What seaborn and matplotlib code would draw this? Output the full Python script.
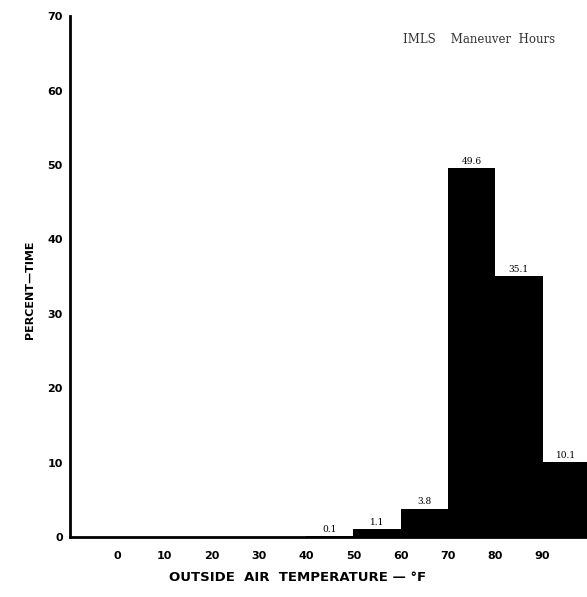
import numpy as np
import pandas as pd
import matplotlib
matplotlib.use('Agg')
import matplotlib.pyplot as plt
import seaborn as sns

# Dati
bin_edges = [40, 50, 60, 70, 80, 90, 100]
percent_time = [0.1, 1.1, 3.8, 49.6, 35.1, 10.1]
bar_labels = ['0.1', '1.1', '3.8', '49.6', '35.1', '10.1']
x_ticks = [0, 10, 20, 30, 40, 50, 60, 70, 80, 90]
y_ticks = [0, 10, 20, 30, 40, 50, 60, 70]

df = pd.DataFrame({
    'temp': [e + 5 for e in bin_edges[:-1]],
    'percent': percent_time,
})

sns.set_style('white')
plt.rcParams['font.family'] = ['DejaVu Sans']

fig = plt.figure(figsize=(5.87, 5.97), dpi=100)
ax = fig.add_axes([0.119, 0.1005, 0.881, 0.8725])

sns.histplot(data=df, x='temp', weights='percent', bins=bin_edges,
             color='black', edgecolor='black', alpha=1, linewidth=0, ax=ax)

# Etichette sopra le barre
for left, val, lab in zip(bin_edges[:-1], percent_time, bar_labels):
    ax.text(left + 5, val + 0.3, lab, ha='center', va='bottom',
            fontsize=6.5, family='DejaVu Serif', color='black')

ax.set_xlim(-10, 99.4)
ax.set_ylim(0, 70)
ax.set_xticks(x_ticks)
ax.set_yticks(y_ticks)
ax.tick_params(direction='in', length=5, width=1.5, labelsize=8,
               colors='black')
ax.tick_params(axis='x', pad=10)
ax.tick_params(axis='y', pad=5)
for t in ax.get_xticklabels() + ax.get_yticklabels():
    t.set_fontweight('bold')

for s in ['top', 'right']:
    ax.spines[s].set_visible(False)
for s in ['left', 'bottom']:
    ax.spines[s].set_linewidth(2)
    ax.spines[s].set_color('black')

ax.set_xlabel('OUTSIDE  AIR  TEMPERATURE — °F', fontsize=9.5,
              fontweight='bold', color='black')
ax.xaxis.set_label_coords(0.44, -0.066)
ax.set_ylabel('PERCENT—TIME', fontsize=8, fontweight='bold', color='black')
ax.yaxis.set_label_coords(-0.068, 0.474)

ax.text(0.938, 0.955, 'IMLS    Maneuver  Hours', transform=ax.transAxes,
        ha='right', va='center', fontsize=8.5, family='DejaVu Serif',
        color='#333333')

fig.savefig('out.png', dpi=100)
